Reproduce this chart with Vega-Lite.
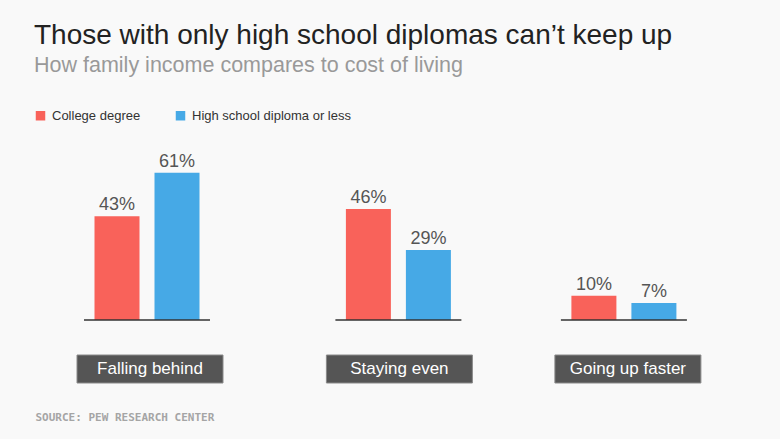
{
  "$schema": "https://vega.github.io/schema/vega-lite/v6.json",
  "background": "#f9f9f9",
  "padding": {"left": 34, "top": 21, "right": 80, "bottom": 20},
  "title": {
    "text": "Those with only high school diplomas can’t keep up",
    "subtitle": "How family income compares to cost of living",
    "anchor": "start",
    "frame": "bounds",
    "font": "Liberation Sans",
    "fontSize": 28,
    "fontWeight": "normal",
    "color": "#222222",
    "subtitleFont": "Liberation Sans",
    "subtitleFontSize": 21.5,
    "subtitleColor": "#999999",
    "subtitlePadding": 5,
    "offset": 33
  },
  "datasets": {
    "d": [
      {"category": "Falling behind", "group": "College degree", "value": 0.43},
      {"category": "Falling behind", "group": "High school diploma or less", "value": 0.61},
      {"category": "Staying even", "group": "College degree", "value": 0.46},
      {"category": "Staying even", "group": "High school diploma or less", "value": 0.29},
      {"category": "Going up faster", "group": "College degree", "value": 0.10},
      {"category": "Going up faster", "group": "High school diploma or less", "value": 0.07}
    ]
  },
  "spacing": 99.4,
  "hconcat": [
    {
      "width": 150, "height": 157,
      "data": {"name": "d"},
      "transform": [{"filter": "datum.category === 'Falling behind'"}],
      "layer": [
        {
          "mark": {"type": "bar"},
          "encoding": {
            "x": {"field": "group", "type": "nominal", "scale": {"paddingInner": 0.25, "paddingOuter": 0.375},
              "axis": {"title": "SOURCE: PEW RESEARCH CENTER", "labels": false, "ticks": false, "domain": false, "titleX": -37, "titleY": 100, "titleAlign": "left", "titleAnchor": "start", "titleBaseline": "alphabetic", "titleFont": "DejaVu Sans Mono", "titleFontSize": 11, "titleFontWeight": "bold", "titleColor": "#a5a5a5"}},
            "y": {"field": "value", "type": "quantitative", "scale": {"domain": [0, 0.65]}, "axis": null},
            "color": {"field": "group", "type": "nominal",
              "scale": {"domain": ["College degree", "High school diploma or less"], "range": ["#f9625a", "#46a9e6"]},
              "legend": {"title": null, "orient": "none", "legendX": -38, "legendY": -54, "padding": 0, "direction": "horizontal", "symbolType": "square", "symbolSize": 90, "symbolStrokeWidth": 0, "labelFont": "Liberation Sans", "labelFontSize": 13, "labelColor": "#333333", "columnPadding": 33, "labelOffset": 5}}
          }
        },
        {
          "mark": {"type": "text", "baseline": "alphabetic", "dy": -6, "fontSize": 18, "font": "Liberation Sans", "color": "#555555"},
          "encoding": {
            "x": {"field": "group", "type": "nominal",
              "axis": {"title": "SOURCE: PEW RESEARCH CENTER", "labels": false, "ticks": false, "domain": false, "titleX": -37, "titleY": 100, "titleAlign": "left", "titleAnchor": "start", "titleBaseline": "alphabetic", "titleFont": "DejaVu Sans Mono", "titleFontSize": 11, "titleFontWeight": "bold", "titleColor": "#a5a5a5"}},
            "y": {"field": "value", "type": "quantitative", "axis": null},
            "text": {"field": "value", "type": "quantitative", "format": ".0%"}
          }
        },
        {
          "transform": [{"aggregate": [{"op": "count", "as": "n"}], "groupby": ["category"]}],
          "mark": {"type": "tick", "orient": "horizontal", "size": 126, "thickness": 1.5, "color": "#333333", "opacity": 1},
          "encoding": {"y": {"datum": 0, "type": "quantitative", "axis": null}}
        },
        {
          "transform": [{"aggregate": [{"op": "count", "as": "n"}], "groupby": ["category"]}],
          "mark": {"type": "tick", "orient": "horizontal", "size": 146, "thickness": 28, "color": "#555555", "stroke": "#8a8a8a", "strokeWidth": 1, "opacity": 1, "yOffset": 49, "xOffset": 3},
          "encoding": {"y": {"datum": 0, "type": "quantitative", "axis": null}}
        },
        {
          "transform": [{"aggregate": [{"op": "count", "as": "n"}], "groupby": ["category"]}],
          "mark": {"type": "text", "baseline": "middle", "yOffset": 49, "xOffset": 3, "fontSize": 17, "font": "Liberation Sans", "color": "#ffffff"},
          "encoding": {"y": {"datum": 0, "type": "quantitative", "axis": null}, "text": {"field": "category", "type": "nominal"}}
        }
      ]
    },
    {
      "spacing": 75.5,
      "hconcat": [
        {
          "width": 150, "height": 157,
          "data": {"name": "d"},
          "transform": [{"filter": "datum.category === 'Staying even'"}],
          "layer": [
            {
              "mark": {"type": "bar"},
              "encoding": {
                "x": {"field": "group", "type": "nominal", "scale": {"paddingInner": 0.25, "paddingOuter": 0.375}, "axis": null},
                "y": {"field": "value", "type": "quantitative", "scale": {"domain": [0, 0.65]}, "axis": null},
                "color": {"field": "group", "type": "nominal",
                  "scale": {"domain": ["College degree", "High school diploma or less"], "range": ["#f9625a", "#46a9e6"]}}
              }
            },
            {
              "mark": {"type": "text", "baseline": "alphabetic", "dy": -6, "fontSize": 18, "font": "Liberation Sans", "color": "#555555"},
              "encoding": {
                "x": {"field": "group", "type": "nominal", "axis": null},
                "y": {"field": "value", "type": "quantitative", "axis": null},
                "text": {"field": "value", "type": "quantitative", "format": ".0%"}
              }
            },
            {
              "transform": [{"aggregate": [{"op": "count", "as": "n"}], "groupby": ["category"]}],
              "mark": {"type": "tick", "orient": "horizontal", "size": 126, "thickness": 1.5, "color": "#333333", "opacity": 1},
              "encoding": {"y": {"datum": 0, "type": "quantitative", "axis": null}}
            },
            {
              "transform": [{"aggregate": [{"op": "count", "as": "n"}], "groupby": ["category"]}],
              "mark": {"type": "tick", "orient": "horizontal", "size": 146, "thickness": 28, "color": "#555555", "stroke": "#8a8a8a", "strokeWidth": 1, "opacity": 1, "yOffset": 49, "xOffset": 1},
              "encoding": {"y": {"datum": 0, "type": "quantitative", "axis": null}}
            },
            {
              "transform": [{"aggregate": [{"op": "count", "as": "n"}], "groupby": ["category"]}],
              "mark": {"type": "text", "baseline": "middle", "yOffset": 49, "xOffset": 1, "fontSize": 17, "font": "Liberation Sans", "color": "#ffffff"},
              "encoding": {"y": {"datum": 0, "type": "quantitative", "axis": null}, "text": {"field": "category", "type": "nominal"}}
            }
          ]
        },
        {
          "width": 150, "height": 157,
          "data": {"name": "d"},
          "transform": [{"filter": "datum.category === 'Going up faster'"}],
          "layer": [
            {
              "mark": {"type": "bar"},
              "encoding": {
                "x": {"field": "group", "type": "nominal", "scale": {"paddingInner": 0.25, "paddingOuter": 0.375}, "axis": null},
                "y": {"field": "value", "type": "quantitative", "scale": {"domain": [0, 0.65]}, "axis": null},
                "color": {"field": "group", "type": "nominal",
                  "scale": {"domain": ["College degree", "High school diploma or less"], "range": ["#f9625a", "#46a9e6"]}}
              }
            },
            {
              "mark": {"type": "text", "baseline": "alphabetic", "dy": -6, "fontSize": 18, "font": "Liberation Sans", "color": "#555555"},
              "encoding": {
                "x": {"field": "group", "type": "nominal", "axis": null},
                "y": {"field": "value", "type": "quantitative", "axis": null},
                "text": {"field": "value", "type": "quantitative", "format": ".0%"}
              }
            },
            {
              "transform": [{"aggregate": [{"op": "count", "as": "n"}], "groupby": ["category"]}],
              "mark": {"type": "tick", "orient": "horizontal", "size": 126, "thickness": 1.5, "color": "#333333", "opacity": 1},
              "encoding": {"y": {"datum": 0, "type": "quantitative", "axis": null}}
            },
            {
              "transform": [{"aggregate": [{"op": "count", "as": "n"}], "groupby": ["category"]}],
              "mark": {"type": "tick", "orient": "horizontal", "size": 146, "thickness": 28, "color": "#555555", "stroke": "#8a8a8a", "strokeWidth": 1, "opacity": 1, "yOffset": 49, "xOffset": 4},
              "encoding": {"y": {"datum": 0, "type": "quantitative", "axis": null}}
            },
            {
              "transform": [{"aggregate": [{"op": "count", "as": "n"}], "groupby": ["category"]}],
              "mark": {"type": "text", "baseline": "middle", "yOffset": 49, "xOffset": 4, "fontSize": 17, "font": "Liberation Sans", "color": "#ffffff"},
              "encoding": {"y": {"datum": 0, "type": "quantitative", "axis": null}, "text": {"field": "category", "type": "nominal"}}
            }
          ]
        }
      ]
    }
  ],
  "config": {
    "view": {"stroke": null},
    "bar": {"binSpacing": 0}
  }
}
